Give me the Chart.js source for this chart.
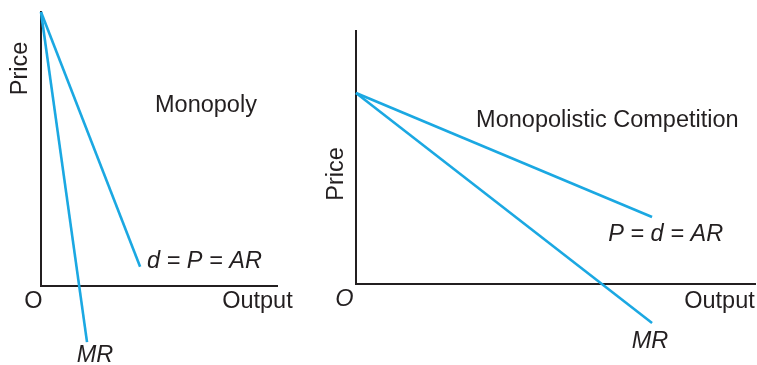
<!DOCTYPE html>
<html>
<head>
    <meta charset="utf-8" />
    <title>Monopoly vs Monopolistic Competition</title>
    <script src="https://cdn.jsdelivr.net/npm/chart.js"></script>
    <style>
        body { margin: 0; background: #fff; }
        #wrap { position: relative; width: 757px; height: 365px; }
        #left { position: absolute; left: 0; top: 0; }
        #right { position: absolute; left: 310px; top: 0; }
    </style>
</head>
<body>
    <div id="wrap">
        <canvas id="left" width="310" height="365"></canvas>
        <canvas id="right" width="447" height="365"></canvas>
    </div>
    <script>
        // left panel: monopoly (steep demand)
        const monoAR = [{x: 0, y: 10}, {x: 4.2, y: 0.7}];
        const monoMR = [{x: 0, y: 10}, {x: 1.95, y: -2.05}];
        const monoLabels = [
            {text: 'Monopoly', x: 6.99, y: 6.35, align: 'center', italic: false},
            {text: 'd = P = AR', x: 4.49, y: 0.66, align: 'left', italic: true},
            {text: 'O', x: -0.32, y: -0.8, align: 'center', italic: false},
            {text: 'Output', x: 9.17, y: -0.8, align: 'center', italic: false},
            {text: 'MR', x: 2.29, y: -2.77, align: 'center', italic: true},
            {text: 'Price', x: -0.85, y: 7.94, align: 'center', italic: false, rotate: true}
        ];

        // right panel: monopolistic competition (flatter demand)
        const compAR = [{x: 0, y: 7.55}, {x: 7.42, y: 2.65}];
        const compMR = [{x: 0, y: 7.55}, {x: 7.42, y: -1.54}];
        const compLabels = [
            {text: 'Monopolistic Competition', x: 6.3, y: 6.21, align: 'center', italic: false},
            {text: 'P = d = AR', x: 6.32, y: 1.7, align: 'left', italic: true},
            {text: 'O', x: -0.29, y: -0.87, align: 'center', italic: true},
            {text: 'Output', x: 9.11, y: -0.95, align: 'center', italic: false},
            {text: 'MR', x: 7.37, y: -2.53, align: 'center', italic: true},
            {text: 'Price', x: -0.48, y: 4.35, align: 'center', italic: false, rotate: true}
        ];

        const lineColor = '#1ba8e2';
        const axisColor = '#231f20';
        const fontFamily = '"Liberation Sans", Arial, sans-serif';

        // draws the text labels at data positions
        const labelPlugin = {
            id: 'labels',
            afterDraw(chart, args, opts) {
                const ctx = chart.ctx;
                const xs = chart.scales.x, ys = chart.scales.y;
                ctx.save();
                ctx.fillStyle = axisColor;
                opts.items.forEach(l => {
                    const px = xs.getPixelForValue(l.x);
                    const py = ys.getPixelForValue(l.y);
                    ctx.font = (l.italic ? 'italic ' : '') + '23.5px ' + fontFamily;
                    if (l.rotate) {
                        ctx.save();
                        ctx.translate(px, py);
                        ctx.rotate(-Math.PI / 2);
                        ctx.textAlign = 'center';
                        ctx.textBaseline = 'middle';
                        ctx.fillText(l.text, 0, 0);
                        ctx.restore();
                    } else {
                        ctx.textAlign = l.align;
                        ctx.textBaseline = 'alphabetic';
                        ctx.fillText(l.text, px, py);
                    }
                });
                ctx.restore();
            }
        };

        function makeChart(id, ar, mr, labels, padding) {
            const ds = (data) => ({
                data: data,
                borderColor: lineColor,
                borderWidth: 2.6,
                pointRadius: 0,
                fill: false,
                clip: false
            });
            return new Chart(document.getElementById(id), {
                type: 'line',
                data: { datasets: [ds(ar), ds(mr)] },
                options: {
                    responsive: false,
                    animation: false,
                    layout: { padding: padding },
                    plugins: {
                        legend: { display: false },
                        tooltip: { enabled: false },
                        labels: { items: labels }
                    },
                    scales: {
                        x: {
                            type: 'linear', min: 0, max: 10,
                            grid: { display: false, drawTicks: false },
                            ticks: { display: false },
                            border: { display: true, color: axisColor, width: 2 }
                        },
                        y: {
                            type: 'linear', min: 0, max: 10,
                            grid: { display: false, drawTicks: false },
                            ticks: { display: false },
                            border: { display: true, color: axisColor, width: 2 }
                        }
                    }
                },
                plugins: [labelPlugin]
            });
        }

        makeChart('left', monoAR, monoMR, monoLabels, {left: 41, top: 12, right: 33, bottom: 79});
        makeChart('right', compAR, compMR, compLabels, {left: 46, top: 31, right: 2, bottom: 81});
    </script>
</body>
</html>
